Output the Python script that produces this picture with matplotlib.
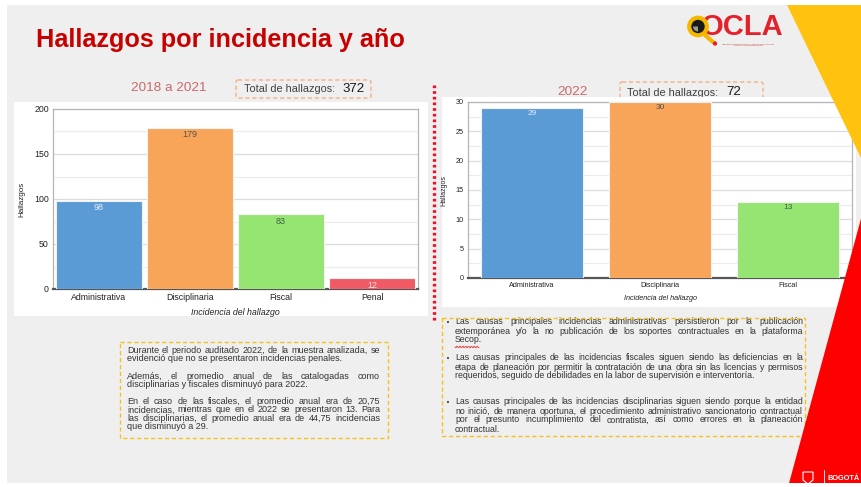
import matplotlib
matplotlib.use('Agg')
import matplotlib.pyplot as plt
import matplotlib.patches as mpatches
import numpy as np

plt.rcParams['font.family'] = ['Liberation Sans', 'DejaVu Sans']

# datos
categorias_2021 = ["Administrativa", "Disciplinaria", "Fiscal", "Penal"]
hallazgos_2021 = [98, 179, 83, 12]
categorias_2022 = ["Administrativa", "Disciplinaria", "Fiscal"]
hallazgos_2022 = [29, 30, 13]
total_2021 = 372
total_2022 = 72

COLORES = ["#5b9bd5", "#f8a55a", "#96e472", "#ef5a64"]
COLOR_VALOR = ["#e3eefa", "#5a5048", "#3f6640", "#ffe0e0"]

texto_izq = [
    ["Durante el periodo auditado 2022, de la muestra analizada, se",
     "evidenció que no se presentaron incidencias penales."],
    ["Además, el promedio anual de las catalogadas como",
     "disciplinarias y fiscales disminuyó para 2022."],
    ["En el caso de las fiscales, el promedio anual era de 20,75",
     "incidencias, mientras que en el 2022 se presentaron 13. Para",
     "las disciplinarias, el promedio anual era de 44,75 incidencias",
     "que disminuyó a 29."],
]
texto_der = [
    ["Las causas principales incidencias administrativas persistieron por la publicación",
     "extemporánea y/o la no publicación de los soportes contractuales en la plataforma",
     "Secop."],
    ["Las causas principales de las incidencias fiscales siguen siendo las deficiencias en la",
     "etapa de planeación por permitir la contratación de una obra sin las licencias y permisos",
     "requeridos, seguido de debilidades en la labor de supervisión e interventoría."],
    ["Las causas principales de las incidencias disciplinarias siguen siendo porque la entidad",
     "no inició, de manera oportuna, el procedimiento administrativo sancionatorio contractual",
     "por el presunto incumplimiento del contratista, así como errores en la planeación",
     "contractual."],
]

W, H = 861, 487
fig = plt.figure(figsize=(W / 100, H / 100), dpi=100)
fig.patch.set_facecolor("white")


def capa(z):
    a = fig.add_axes([0, 0, 1, 1], zorder=z)
    a.set_xlim(0, W)
    a.set_ylim(H, 0)
    a.axis('off')
    a.patch.set_alpha(0)
    return a


fondo = capa(0)
frente = capa(10)
renderer = fig.canvas.get_renderer()

# fondo de la diapositiva
fondo.add_patch(mpatches.Rectangle((7, 5), W - 7, 478, facecolor="#efefef", edgecolor="none"))

fondo.text(36, 40, "Hallazgos por incidencia y año", fontsize=18.2, fontweight='bold',
           color="#c80000", ha='left', va='center')

# logo
fondo.text(701, 27, "OCLA", fontsize=21, fontweight='bold', color="#e4202a",
           ha='left', va='center')
fondo.add_patch(mpatches.Circle((698, 26.5), 8.8, facecolor="#1a1a1a", edgecolor="#f5b800", lw=3, zorder=3))
fondo.add_patch(mpatches.Wedge((698, 26.5), 5, 90, 180, facecolor="#9a9a9a", zorder=4))
fondo.plot([705, 713], [35, 42], color="#f5b800", lw=3, solid_capstyle='round', zorder=3)
fondo.add_patch(mpatches.Circle((715, 43.5), 2.2, facecolor="#e4202a", zorder=4))
fondo.text(748, 45, "OBSERVATORIO DISTRITAL DE CONTRATACIÓN\nY LUCHA ANTICORRUPCIÓN",
           fontsize=1.6, color="#c0392b", ha='center', va='center', linespacing=1.0)

# titulos de los graficos
fondo.text(169, 88, "2018 a 2021", fontsize=9.7, color="#c96a6a", ha='center', va='center')
fondo.text(572, 92, "2022", fontsize=9.7, color="#c96a6a", ha='center', va='center')


def caja_total(x0, x1, y0, y1, total, xt, xn):
    fondo.add_patch(mpatches.FancyBboxPatch((x0, y0), x1 - x0, y1 - y0,
                                            boxstyle="round,pad=0,rounding_size=2",
                                            facecolor="none", edgecolor="#f4b183",
                                            lw=1.0, linestyle=(0, (3, 2))))
    fondo.text(xt, (y0 + y1) / 2 + 0.5, "Total de hallazgos:", fontsize=7.8, color="#404040",
               ha='left', va='center')
    fondo.text(xn, (y0 + y1) / 2, str(total), fontsize=9.5, color="#1a1a1a",
               ha='left', va='center')


caja_total(236, 371, 80, 98, total_2021, 244, 342)
caja_total(620, 763, 82, 102, total_2022, 627, 726)

# paneles blancos de los graficos
fondo.add_patch(mpatches.Rectangle((14, 102), 414, 214, facecolor="white", edgecolor="none", zorder=5))
fondo.add_patch(mpatches.Rectangle((442, 97), 414, 210, facecolor="white", edgecolor="none", zorder=5))

# linea punteada roja
fondo.plot([434, 434], [85, 323], color="#e8102a", lw=2.4, linestyle=(0, (0.8, 0.9)), zorder=6)


def grafico(pos, cats, vals, ymax, paso, ancho, fs_tick, fs_val):
    ax = fig.add_axes([pos[0] / W, 1 - pos[3] / H, (pos[2] - pos[0]) / W, (pos[3] - pos[1]) / H],
                      zorder=5)
    ax.set_facecolor("white")
    x = np.arange(len(cats))
    ax.bar(x, vals, width=ancho, color=COLORES[:len(cats)], edgecolor="#f2f2f2",
           linewidth=0.8, zorder=3)
    for i, v in enumerate(vals):
        ax.text(i, v - ymax * 0.014, str(v), ha='center', va='top', fontsize=fs_val,
                color=COLOR_VALOR[i], zorder=4)
    ax.set_xlim(-0.5, len(cats) - 0.5)
    ax.set_ylim(0, ymax)
    ax.set_yticks(np.arange(0, ymax + 1, paso))
    ax.set_yticks(np.arange(paso / 2, ymax, paso), minor=True)
    ax.grid(axis='y', which='major', color="#dcdcdc", lw=0.9, zorder=0)
    ax.grid(axis='y', which='minor', color="#ececec", lw=0.8, zorder=0)
    ax.set_xticks(x)
    ax.set_xticklabels(cats)
    ax.tick_params(axis='both', length=0, labelsize=fs_tick, colors="#222222", pad=3)
    ax.tick_params(axis='y', which='minor', length=0)
    for s in ['top', 'right', 'left']:
        ax.spines[s].set_color("#b5b5b5")
        ax.spines[s].set_linewidth(0.9)
    ax.spines['bottom'].set_color("#555555")
    ax.spines['bottom'].set_linewidth(1.6)
    return ax


ax1 = grafico((53, 109, 418, 289), categorias_2021, hallazgos_2021, 200, 50, 0.94, 6.3, 6.5)
ax1.set_xlabel("Incidencia del hallazgo", fontsize=6.3, style='italic', color="#222222", labelpad=4)
ax1.set_ylabel("Hallazgos", fontsize=5.8, color="#222222", labelpad=6)

ax2 = grafico((468, 102, 852, 278), categorias_2022, hallazgos_2022, 30, 5, 0.8, 5.2, 6)
ax2.set_xlabel("Incidencia del hallazgo", fontsize=5.2, style='italic', color="#222222", labelpad=4)
ax2.set_ylabel("Hallazgos", fontsize=5, color="#222222", labelpad=6)


def ajustar_fuente(bloques, ancho, fs0=6.0):
    # tamaño con el que la linea mas larga llena justo el ancho
    factor = 10.0
    for bloque in bloques:
        for linea in bloque[:-1]:
            t = fondo.text(0, 0, linea, fontsize=fs0)
            w = t.get_window_extent(renderer).width
            t.remove()
            factor = min(factor, ancho / w)
    return fs0 * factor


def parrafos(ax, bloques, x0, x1, ys, dy, fs, color="#333333"):
    for bloque, y0 in zip(bloques, ys):
        for i, linea in enumerate(bloque):
            y = y0 + i * dy + 2.5
            if i == len(bloque) - 1:
                ax.text(x0, y, linea, fontsize=fs, color=color, ha='left', va='baseline')
                continue
            palabras = linea.split()
            ts = [ax.text(0, y, p, fontsize=fs, color=color, ha='left', va='baseline') for p in palabras]
            anchos = [t.get_window_extent(renderer).width for t in ts]
            hueco = (x1 - x0 - sum(anchos)) / (len(palabras) - 1)
            xx = x0
            for t, w in zip(ts, anchos):
                t.set_x(xx)
                xx += w + hueco


# caja de texto izquierda
fondo.add_patch(mpatches.Rectangle((120, 342), 268, 96, facecolor="none", edgecolor="#f5c21b",
                                   lw=1.0, linestyle=(0, (3, 2))))
fs_izq = ajustar_fuente(texto_izq, 380 - 127)
parrafos(fondo, texto_izq, 127, 380, [350.5, 376.5, 401.5], 8.4, fs_izq)

# caja de texto derecha
fondo.add_patch(mpatches.Rectangle((442, 318), 363, 118, facecolor="none", edgecolor="#f5c21b",
                                   lw=1.0, linestyle=(0, (3, 2)), zorder=7))
fs_der = ajustar_fuente(texto_der, 803 - 455)
parrafos(fondo, texto_der, 455, 803, [322, 358, 402], 9.0, fs_der)
for yb in [322, 358, 402]:
    fondo.add_patch(mpatches.Rectangle((446.5, yb - 1), 2, 2, facecolor="#555555", edgecolor="none"))
xs = np.linspace(455, 479, 25)
fondo.plot(xs, 347 + 0.9 * np.sin((xs - 455) * 2.2), color="#e03030", lw=0.6)

# formas de color a la derecha
frente.add_patch(mpatches.Polygon([(787, 5), (W, 5), (W, 158)], facecolor="#ffc20e", edgecolor="none"))
frente.add_patch(mpatches.Polygon([(862, 215), (W, H), (788, H)], facecolor="#ff0000", edgecolor="none"))
frente.add_patch(mpatches.Rectangle((0, 483), W, 4, facecolor="white", edgecolor="none"))
frente.add_patch(mpatches.Rectangle((0, 0), 7, H, facecolor="white", edgecolor="none"))
frente.add_patch(mpatches.Rectangle((0, 0), W, 5, facecolor="white", edgecolor="none"))
frente.add_patch(mpatches.Polygon([(803, 472), (813, 472), (813, 480), (808, 484), (803, 480)],
                                  facecolor="none", edgecolor="white", lw=0.8))
frente.plot([824, 824], [470, 486], color="white", lw=0.6)
frente.text(828, 479, "BOGOTÁ", fontsize=5.3, fontweight='bold', color="white", ha='left', va='center')

fig.savefig("out.png", dpi=100, facecolor="white")
plt.close()
